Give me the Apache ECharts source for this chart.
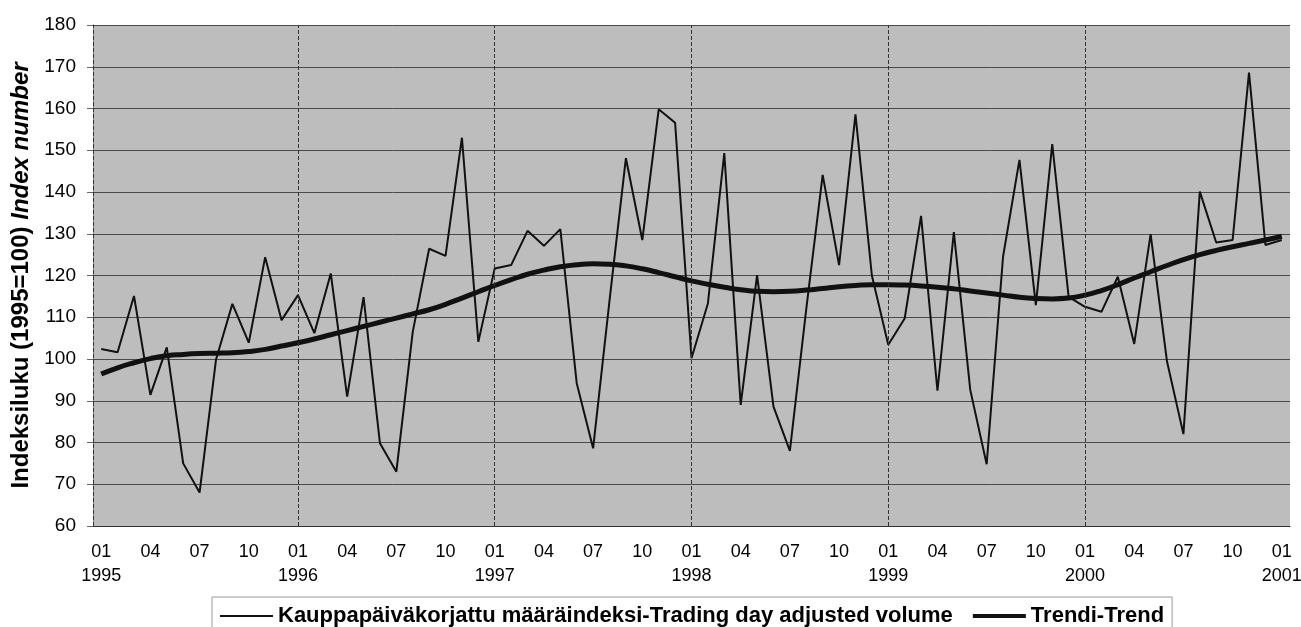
<!DOCTYPE html>
<html>
<head>
<meta charset="utf-8">
<script src="https://cdn.jsdelivr.net/npm/echarts@6/dist/echarts.min.js"></script>
<style>
  html, body { margin: 0; padding: 0; background: #fff; }
  #chart { width: 1301px; height: 627px; }
</style>
</head>
<body>
<div id="chart"></div>
<script>
// kuukaudet 1995-01 ... 2001-01
var years = ['1995', '1996', '1997', '1998', '1999', '2000', '2001'];
var months = ['01', '02', '03', '04', '05', '06', '07', '08', '09', '10', '11', '12'];
var categories = [];
years.forEach(function (y) {
    months.forEach(function (m) {
        if (y === '2001' && m !== '01') return;
        categories.push(y + '-' + m);
    });
});

var yearLines = ['1996-01', '1997-01', '1998-01', '1999-01', '2000-01'];

// Kauppapäiväkorjattu määräindeksi
var volume = [
    102.4, 101.6, 115.1, 91.4, 102.8, 75.0, 68.0, 99.8, 113.2, 103.9, 124.4, 109.3,
    115.3, 106.2, 120.5, 91.0, 114.8, 79.8, 73.0, 106.5, 126.4, 124.7, 153.0, 104.1,
    121.7, 122.5, 130.7, 127.1, 131.1, 94.2, 78.6, 114.0, 148.1, 128.5, 159.8, 156.6,
    100.2, 113.3, 149.3, 89.0, 120.1, 88.6, 78.0, 112.0, 144.1, 122.5, 158.6, 120.0,
    103.4, 109.7, 134.3, 92.4, 130.4, 92.6, 74.8, 124.5, 147.7, 112.9, 151.5, 114.9,
    112.5, 111.3, 119.7, 103.6, 129.9, 99.4, 82.0, 140.1, 127.9, 128.5, 168.6, 127.3,
    128.5
];

// Trendi
var trend = [
    96.4, 97.9, 99.1, 100.1, 100.8, 101.1, 101.3, 101.4, 101.5, 101.8, 102.3, 103.1,
    103.9, 104.8, 105.8, 106.8, 107.8, 108.8, 109.8, 110.8, 111.8, 113.1, 114.6, 116.1,
    117.6, 119.0, 120.3, 121.3, 122.1, 122.6, 122.8, 122.7, 122.3, 121.6, 120.7, 119.7,
    118.7, 117.9, 117.2, 116.6, 116.2, 116.1, 116.2, 116.5, 116.9, 117.3, 117.6, 117.8,
    117.8, 117.7, 117.5, 117.2, 116.8, 116.3, 115.8, 115.3, 114.8, 114.5, 114.4, 114.6,
    115.3, 116.4, 117.8, 119.4, 120.9, 122.4, 123.8, 125.0, 126.0, 126.9, 127.7, 128.5,
    129.4
];

var font = 'Liberation Sans, Arial, sans-serif';
var volName = 'Kauppapäiväkorjattu määräindeksi-Trading day adjusted volume';
var trendName = 'Trendi-Trend';

var chart = echarts.init(document.getElementById('chart'));
var option = {
    animation: false,
    backgroundColor: '#fff',
    grid: {
        left: 93,
        right: 11,
        top: 25,
        bottom: 101,
        containLabel: false,
        outerBoundsMode: 'none',
        show: true,
        backgroundColor: '#bdbdbd',
        borderWidth: 0
    },
    legend: {
        left: 212,
        top: 597,
        padding: [8, 8, 30, 7],
        itemGap: 18,
        itemWidth: 53,
        itemHeight: 24,
        borderColor: '#999',
        borderWidth: 1,
        itemStyle: { color: 'rgba(0,0,0,0)', borderWidth: 0 },
        textStyle: {
            fontFamily: font,
            fontSize: 22,
            fontWeight: 'bold',
            color: '#000'
        },
        data: [
            { name: volName, lineStyle: { width: 2 } },
            { name: trendName, lineStyle: { width: 4 } }
        ]
    },
    xAxis: {
        type: 'category',
        data: categories,
        boundaryGap: true,
        axisLine: { lineStyle: { color: '#333', width: 1 } },
        axisTick: {
            alignWithLabel: true,
            interval: function (i) { return i % 3 === 0; },
            length: 4,
            lineStyle: { color: '#777' }
        },
        splitLine: { show: false },
        axisLabel: {
            interval: function (i) { return i % 3 === 0; },
            margin: 14,
            fontFamily: font,
            fontSize: 18,
            color: '#000',
            lineHeight: 24,
            formatter: function (v) {
                var p = v.split('-');
                return p[1] === '01' ? p[1] + '\n' + p[0] : p[1];
            }
        }
    },
    yAxis: {
        type: 'value',
        min: 60,
        max: 180,
        interval: 10,
        name: '{a|Indeksiluku (1995=100) }{b|Index number}',
        nameLocation: 'middle',
        nameRotate: 90,
        nameGap: 60,
        nameTextStyle: {
            rich: {
                a: { fontFamily: font, fontSize: 24, fontWeight: 'bold', color: '#000' },
                b: { fontFamily: font, fontSize: 24, fontWeight: 'bold', fontStyle: 'italic', color: '#000' }
            }
        },
        axisLine: { show: true, lineStyle: { color: '#333', type: 'dashed', width: 1 } },
        axisTick: { show: true, length: 6, lineStyle: { color: '#666' } },
        axisLabel: {
            margin: 17,
            fontFamily: font,
            fontSize: 19,
            color: '#000'
        },
        splitLine: { lineStyle: { color: '#4a4a4a', width: 1 } }
    },
    series: [
        {
            name: volName,
            type: 'line',
            data: volume,
            symbol: 'none',
            lineStyle: { color: '#111', width: 2 },
            itemStyle: { color: '#111' },
            markLine: {
                silent: true,
                symbol: 'none',
                label: { show: false },
                lineStyle: { color: '#333', type: 'dashed', width: 1 },
                data: yearLines.map(function (c) { return { xAxis: c }; })
            },
            z: 3
        },
        {
            name: trendName,
            type: 'line',
            data: trend,
            symbol: 'none',
            smooth: true,
            lineStyle: { color: '#111', width: 5 },
            itemStyle: { color: '#111' },
            z: 4
        }
    ]
};
chart.setOption(option);
</script>
</body>
</html>
